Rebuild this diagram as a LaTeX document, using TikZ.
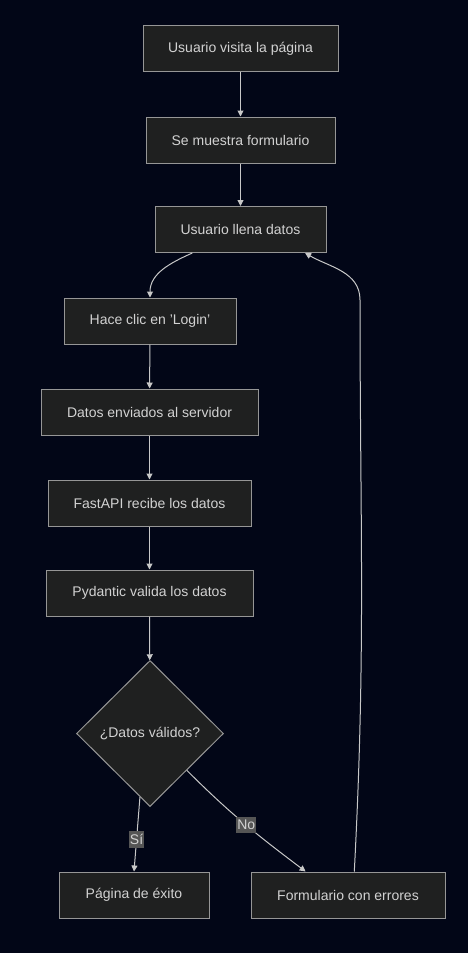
\documentclass[tikz,border=0pt]{standalone}
\usepackage{fontspec}
\setmainfont{Liberation Sans}
\usetikzlibrary{arrows.meta,shapes.geometric}
\definecolor{bgcol}{RGB}{2,6,23}
\definecolor{boxfill}{RGB}{31,32,32}
\definecolor{boxline}{RGB}{150,150,150}
\definecolor{txtcol}{RGB}{210,210,210}
\definecolor{edgecol}{RGB}{200,200,200}
\definecolor{lblfill}{RGB}{85,85,85}
\tikzset{
  stepbox/.style={draw=boxline,fill=boxfill,text=txtcol,line width=1pt,
    minimum height=46pt,inner sep=0pt,font=\fontsize{14}{17}\selectfont},
  decision/.style={diamond,draw=boxline,fill=boxfill,text=txtcol,line width=1pt,
    minimum width=147pt,minimum height=146pt,inner sep=0pt,aspect=1,
    font=\fontsize{14}{17}\selectfont},
  edge/.style={draw=edgecol,line width=1pt,-{Triangle[length=6pt,width=6pt]}},
  lbl/.style={fill=lblfill,text=txtcol,inner xsep=1pt,inner ysep=3pt,
    font=\fontsize{14}{17}\selectfont}
}
\begin{document}
\begin{tikzpicture}[x=1pt,y=-1pt]
  \fill[bgcol] (0,0) rectangle (468,953);
  \useasboundingbox (0,0) rectangle (468,953);
  % main column
  \node[stepbox,minimum width=195pt] (visita) at (240.5,48.5) {Usuario visita la página};
  \node[stepbox,minimum width=189pt] (form) at (240.5,140) {Se muestra formulario};
  \node[stepbox,minimum width=171pt] (llena) at (240.5,229.5) {Usuario llena datos};
  \node[stepbox,minimum width=172pt] (login) at (150,321) {Hace clic en 'Login'};
  \node[stepbox,minimum width=217pt] (envia) at (149.5,412) {Datos enviados al servidor};
  \node[stepbox,minimum width=203pt] (fastapi) at (149.5,503) {FastAPI recibe los datos};
  \node[stepbox,minimum width=207pt] (pydantic) at (149.5,593) {Pydantic valida los datos};
  \node[decision] (valid) at (150,733.5) {¿Datos válidos?};
  \node[stepbox,minimum width=150pt] (exito) at (134,895) {Página de éxito};
  \node[stepbox,minimum width=194pt] (errores) at (348,895) {Formulario con errores};
  % connectors
  \draw[edge] (visita) -- (form);
  \draw[edge] (form) -- (llena);
  \draw[edge] (llena.206) to[out=-156,in=90] (login.north);
  \draw[edge] (login) -- (envia);
  \draw[edge] (envia) -- (fastapi);
  \draw[edge] (fastapi) -- (pydantic);
  \draw[edge] (pydantic) -- (valid);
  \draw[edge] (valid.-99) -- node[lbl,pos=0.57] {Sí} (exito.north);
  \draw[edge] (valid.-45) to[out=-45,in=143] node[lbl,pos=0.52] {No} (errores.151);
  \coordinate (turn) at (360,300);
  \draw[edge] (errores.75) to[out=87,in=-90] (turn) to[out=90,in=-30] (llena.-20);
\end{tikzpicture}
\end{document}
